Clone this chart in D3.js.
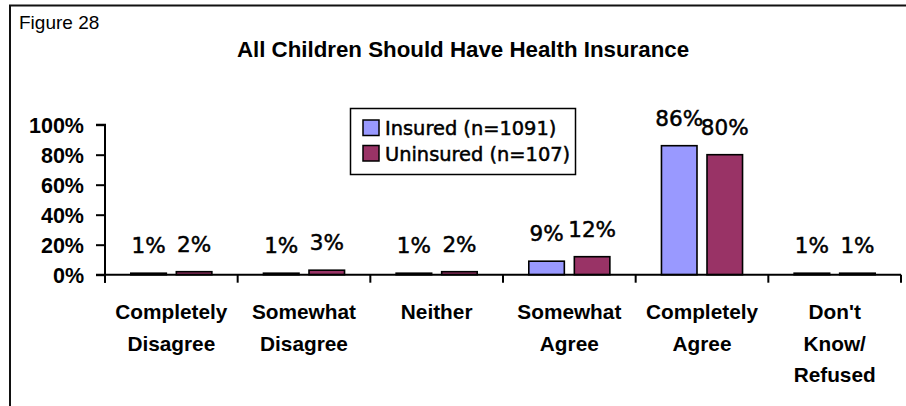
<!DOCTYPE html>
<html>
<head>
<meta charset="utf-8">
<script src="https://cdn.jsdelivr.net/npm/d3@7"></script>
<style>
  html, body { margin: 0; padding: 0; background: #fff; }
  svg { display: block; }
</style>
</head>
<body>
<svg id="chart" width="906" height="406"></svg>
<script>
// Survey responses: "All children should have health insurance"
const categories = [
  ["Completely", "Disagree"],
  ["Somewhat", "Disagree"],
  ["Neither"],
  ["Somewhat", "Agree"],
  ["Completely", "Agree"],
  ["Don't", "Know/", "Refused"]
];
const seriesNames = ["Insured (n=1091)", "Uninsured (n=107)"];
const insured = [1, 1, 1, 9, 86, 1];
const uninsured = [2, 3, 2, 12, 80, 1];
const yTicks = [0, 20, 40, 60, 80, 100];
const colors = ["#9999FF", "#993366"];

const svg = d3.select("#chart");
const plot = { left: 105, right: 901, top: 124.7, bottom: 274.7 };

// outer frame (runs off the right and bottom edges)
svg.append("rect")
  .attr("x", 10).attr("y", 5.5)
  .attr("width", 920).attr("height", 430)
  .attr("fill", "none").attr("stroke", "#111").attr("stroke-width", 2);

svg.append("text")
  .attr("x", 19).attr("y", 29.3)
  .attr("font-family", "Liberation Sans, Arial, sans-serif")
  .attr("font-size", 19)
  .attr("fill", "#000")
  .text("Figure 28");

svg.append("text")
  .attr("x", 463).attr("y", 57.3)
  .attr("text-anchor", "middle")
  .attr("font-family", "Liberation Sans, Arial, sans-serif")
  .attr("font-weight", "bold")
  .attr("font-size", 22.3)
  .attr("fill", "#000")
  .text("All Children Should Have Health Insurance");

const idx = d3.range(categories.length);
const x0 = d3.scaleBand().domain(idx).range([plot.left, plot.right]).padding(0);
const x1 = d3.scaleBand().domain([0, 1])
  .range([25.8, x0.bandwidth() - 25.8])
  .paddingInner(10 / 45.5).paddingOuter(0);
const y = d3.scaleLinear().domain([0, 100]).range([plot.bottom, plot.top]);

const series = [insured, uninsured];

// bars
const groups = svg.append("g").selectAll("g")
  .data(idx).join("g")
  .attr("transform", i => `translate(${x0(i)},0)`);

groups.selectAll("rect")
  .data(i => series.map((s, k) => ({ k, v: s[i] })))
  .join("rect")
  .attr("x", d => x1(d.k))
  .attr("width", x1.bandwidth())
  .attr("y", d => y(d.v))
  .attr("height", d => y(0) - y(d.v))
  .attr("fill", d => colors[d.k])
  .attr("stroke", "#000")
  .attr("stroke-width", 1.6);

// value labels
groups.selectAll("text.val")
  .data(i => series.map((s, k) => ({ k, v: s[i] })))
  .join("text")
  .attr("class", "val")
  .attr("x", d => x1(d.k) + x1.bandwidth() / 2)
  .attr("y", d => y(d.v) - 20)
  .attr("text-anchor", "middle")
  .attr("font-family", "DejaVu Sans, Verdana, sans-serif")
  .attr("font-size", 21.5)
  .attr("fill", "#000")
  .attr("stroke", "#000")
  .attr("stroke-width", 0.5)
  .text(d => d.v + "%");

// y axis
const yAxis = d3.axisLeft(y)
  .tickValues(yTicks)
  .tickFormat(d => d + "%")
  .tickSize(9).tickPadding(12);
const gy = svg.append("g")
  .attr("transform", `translate(${plot.left},0)`)
  .call(yAxis);
gy.select(".domain").attr("stroke", "#000").attr("stroke-width", 2)
  .attr("d", `M-9,${plot.top}H0V${plot.bottom + 8}`);
gy.selectAll(".tick line").attr("stroke", "#000").attr("stroke-width", 2);
gy.selectAll(".tick text")
  .attr("font-family", "Liberation Sans, Arial, sans-serif")
  .attr("font-weight", "bold")
  .attr("font-size", 21.5)
  .attr("fill", "#000")
  .attr("dy", "0.36em");

// x axis baseline and category separators
const gx = svg.append("g");
gx.append("line")
  .attr("x1", plot.left - 9).attr("x2", plot.right)
  .attr("y1", y(0)).attr("y2", y(0))
  .attr("stroke", "#000").attr("stroke-width", 2);
gx.selectAll("line.sep")
  .data(d3.range(categories.length + 1))
  .join("line")
  .attr("class", "sep")
  .attr("x1", i => plot.left + i * x0.step())
  .attr("x2", i => plot.left + i * x0.step())
  .attr("y1", y(0)).attr("y2", y(0) + 8)
  .attr("stroke", "#000").attr("stroke-width", 2);

// category labels
const cl = gx.selectAll("text.cat")
  .data(idx).join("text")
  .attr("class", "cat")
  .attr("text-anchor", "middle")
  .attr("font-family", "Liberation Sans, Arial, sans-serif")
  .attr("font-weight", "bold")
  .attr("font-size", 20.8)
  .attr("fill", "#000");
cl.selectAll("tspan")
  .data(i => categories[i].map(t => ({ t, i })))
  .join("tspan")
  .attr("x", d => x0(d.i) + x0.bandwidth() / 2)
  .attr("y", (d, j) => 319.3 + j * 31.2)
  .text(d => d.t);

// legend
const lg = svg.append("g");
lg.append("rect")
  .attr("x", 350.5).attr("y", 108.5)
  .attr("width", 225).attr("height", 66)
  .attr("fill", "#fff").attr("stroke", "#000").attr("stroke-width", 1.5);
const items = lg.selectAll("g.item")
  .data(seriesNames).join("g")
  .attr("class", "item")
  .attr("transform", (d, k) => `translate(0,${k * 25.5})`);
items.append("rect")
  .attr("x", 363).attr("y", 120)
  .attr("width", 16).attr("height", 15.5)
  .attr("fill", (d, k) => colors[k])
  .attr("stroke", "#000").attr("stroke-width", 1.5);
items.append("text")
  .attr("x", 385).attr("y", 135)
  .attr("font-family", "DejaVu Sans, Verdana, sans-serif")
  .attr("font-size", 19.4)
  .attr("fill", "#000")
  .attr("stroke", "#000")
  .attr("stroke-width", 0.5)
  .text(d => d);
</script>
</body>
</html>
